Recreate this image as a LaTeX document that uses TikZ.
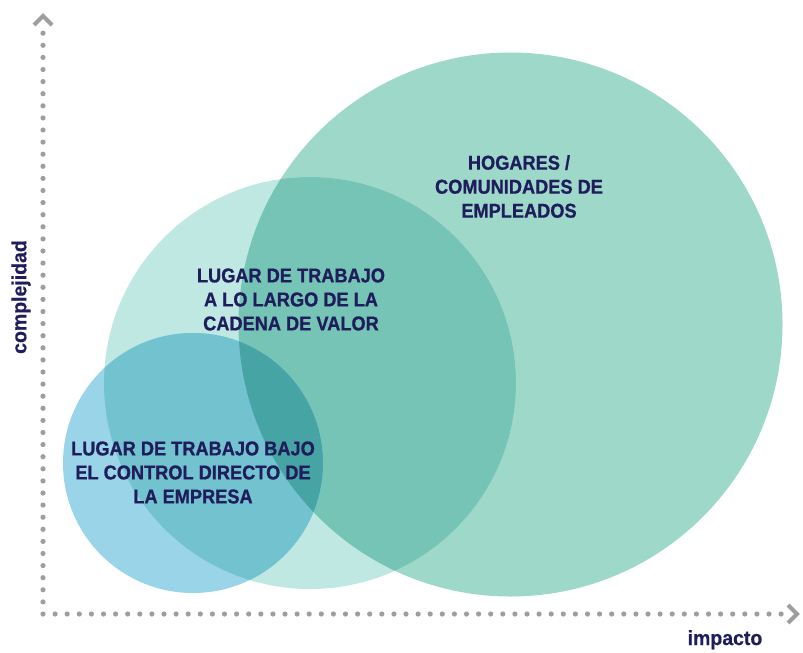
\documentclass[tikz,border=0pt]{standalone}
\usepackage{fontspec}
\setmainfont{Liberation Sans}
\newfontfamily\lblfont{Liberation Sans}[FakeStretch=0.91,FakeBold=0.8]
\newfontfamily\axfont{Liberation Sans}[FakeStretch=0.95,FakeBold=0.4]
\definecolor{bigc}{HTML}{9DD8C9}
\definecolor{midc}{HTML}{BFE8E2}
\definecolor{smallc}{HTML}{9AD4E8}
\definecolor{bigmid}{HTML}{76C4B5}
\definecolor{smallmid}{HTML}{73C2CF}
\definecolor{allc}{HTML}{47A4A4}
\definecolor{textc}{HTML}{1F1D5C}
\definecolor{dotc}{HTML}{9E9E9E}
\tikzset{
  zonelabel/.style={font=\lblfont\bfseries\fontsize{20}{24}\selectfont, text=textc, align=center, inner sep=0pt},
  axislabel/.style={font=\axfont\bfseries\fontsize{20.5}{24}\selectfont, text=textc, inner sep=0pt},
  axisdot/.style={fill=dotc},
  chevron/.style={draw=dotc, line width=4pt, line join=miter}
}
\def\BigCircle{(510.5,324.5) circle[radius=272]}
\def\MidCircle{(310,383) circle[radius=206]}
\def\SmallCircle{(193,463) circle[radius=130]}
\begin{document}
\begin{tikzpicture}[x=1pt,y=-1pt]
\useasboundingbox (0,0) rectangle (803,653);
% circles
\fill[bigc] \BigCircle;
\fill[midc] \MidCircle;
\begin{scope}
  \clip \BigCircle;
  \fill[bigmid] \MidCircle;
\end{scope}
\fill[smallc] \SmallCircle;
\begin{scope}
  \clip \SmallCircle;
  \fill[smallmid] \MidCircle;
  \clip \MidCircle;
  \fill[allc] \BigCircle;
\end{scope}
% axes
\foreach \i in {0,...,48} \fill[axisdot] (43,614-\i*12.1) circle[radius=2.6];
\foreach \i in {1,...,61} \fill[axisdot] (43+\i*12.1,614) circle[radius=2.6];
\coordinate (ytip) at (43,16);
\coordinate (xtip) at (797,614);
\draw[chevron] (34,25) -- (ytip) -- (52,25);
\draw[chevron] (788,605) -- (xtip) -- (788,623);
% labels
\node[zonelabel] (hog) at (519,186.5) {HOGARES /\\COMUNIDADES DE\\EMPLEADOS};
\node[zonelabel] (cad) at (291,299.5) {LUGAR DE TRABAJO\\A LO LARGO DE LA\\CADENA DE VALOR};
\node[zonelabel] (emp) at (193,472.5) {LUGAR DE TRABAJO BAJO\\EL CONTROL DIRECTO DE\\LA EMPRESA};
\node[axislabel, rotate=90] (ylab) at (21,297) {complejidad};
\node[axislabel, anchor=base] (xlab) at (725,645) {impacto};
\end{tikzpicture}
\end{document}
